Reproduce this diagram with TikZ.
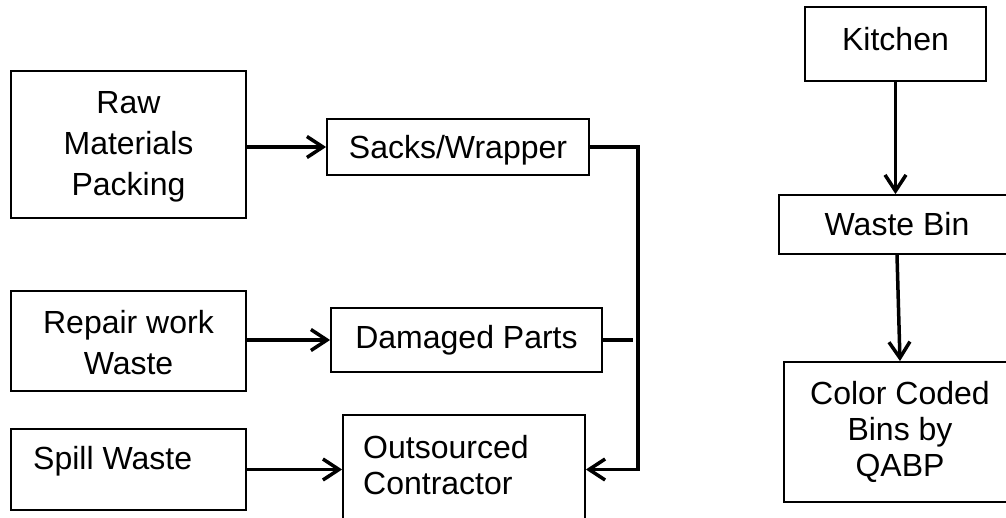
\documentclass[tikz,border=0pt]{standalone}
\usepackage{fontspec}
\setmainfont{Liberation Sans}
\usetikzlibrary{arrows.meta}
\begin{document}
\begin{tikzpicture}[x=1pt,y=-1pt,
  box/.style={draw, line width=1.8pt, inner sep=0pt, align=center,
    font=\fontsize{32}{41}\selectfont},
  txt/.style={inner sep=0pt, font=\fontsize{32}{36}\selectfont},
  arr/.style={line width=3.5pt, -{Straight Barb[length=16pt,width=21pt,line width=3.5pt]}},
  conn/.style={line width=3.5pt}]
\useasboundingbox (0,0) rectangle (1006,518);
\clip (0,0) rectangle (1006,518);
% left column
\node[box, minimum width=235, minimum height=147] (raw) at (128.5,144.5) {};
\node[txt, align=center, font=\fontsize{32}{41}\selectfont] (rawtxt) at (128.5,147) {Raw\\Materials\\Packing};
\node[box, minimum width=235, minimum height=100] (repair) at (128.5,341) {};
\node[txt, align=center, font=\fontsize{32}{41}\selectfont] (repairtxt) at (128.5,343) {Repair work\\Waste};
\node[box, minimum width=235, minimum height=81] (spill) at (128.5,469.5) {};
\node[txt, anchor=west] (spilltxt) at (33,461) {Spill Waste};
% middle column
\node[box, minimum width=262, minimum height=56] (sacks) at (458,147) {};
\node[txt] (sackstxt) at (458,150) {Sacks/Wrapper};
\node[box, minimum width=271, minimum height=64] (damaged) at (466.5,340) {Damaged Parts};
\node[box, minimum width=242, minimum height=125] (outs) at (464,477.5) {};
\node[txt, anchor=west, align=left] (outstxt) at (363,465) {Outsourced\\Contractor};
% right column
\node[box, minimum width=181, minimum height=74] (kitchen) at (895.5,44) {};
\node[txt] (kitchentxt) at (895.5,39) {Kitchen};
\node[box, minimum width=236, minimum height=59] (wastebin) at (897,224.5) {Waste Bin};
\node[box, minimum width=232, minimum height=140, font=\fontsize{32}{36}\selectfont] (colorbins) at (900,432) {Color Coded\\Bins by\\QABP};
% connectors
\draw[arr] (raw.east |- sacks.west) -- (sacks.west);
\draw[arr] (repair.east |- damaged.west) -- (damaged.west);
\draw[arr] (spill.east) -- (spill.east -| outs.west);
\draw[arr] (sacks.east) -- ++(48,0) |- (outs.east |- spill.east);
\draw[conn] (damaged.east) -- ++(30,0);
\draw[arr] (kitchen.south) -- (kitchen.south |- wastebin.north);
\draw[arr] (wastebin.south) -- (colorbins.north);
\end{tikzpicture}
\end{document}
